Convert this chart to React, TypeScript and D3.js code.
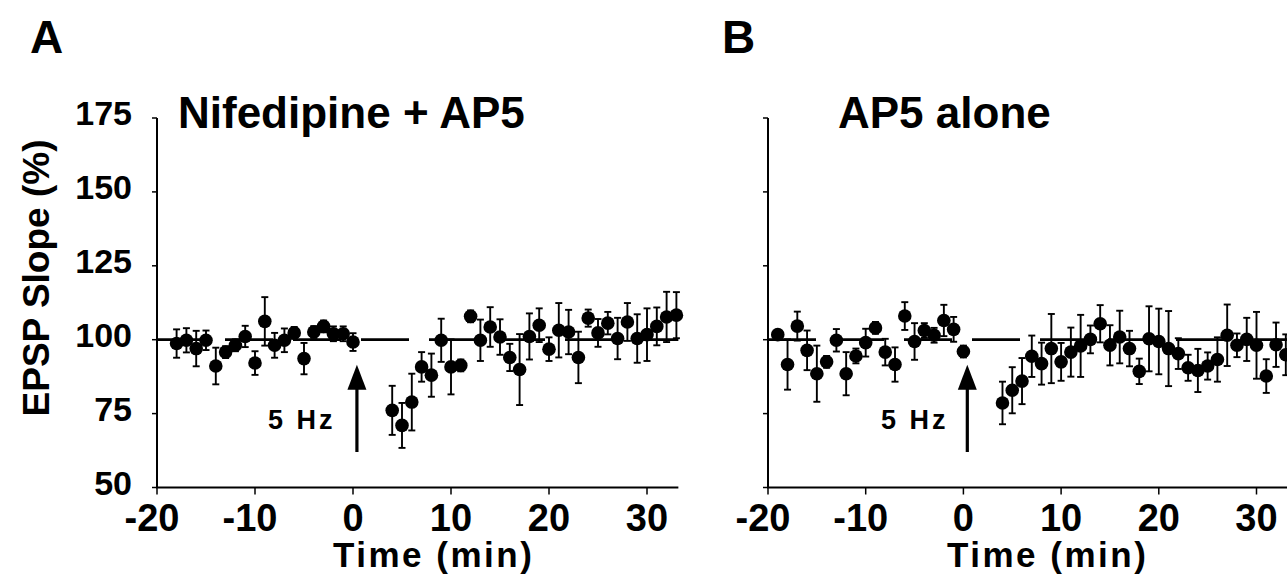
import React from 'react';
import * as d3 from 'd3';

// ---------- data ----------
const yTicks = [50, 75, 100, 125, 150, 175];
const xTicks = [-20, -10, 0, 10, 20, 30];

// Panel A: Nifedipine + AP5
const nifTime = [-18, -17, -16, -15, -14, -13, -12, -11, -10, -9, -8, -7, -6, -5, -4, -3, -2, -1, 0,
  4, 5, 6, 7, 8, 9, 10, 11, 12, 13, 14, 15, 16, 17, 18, 19, 20, 21, 22, 23, 24, 25, 26, 27, 28, 29, 30, 31, 32, 33];
const nifMean = [98.7, 99.8, 97, 99.8, 91.1, 95.8, 98.1, 101.1, 92.1, 106.2, 98.1, 99.8, 102.3, 93.6, 102.6, 104.5, 102, 102, 99.2,
  76.1, 71.0, 78.9, 90.8, 88, 99.8, 90.8, 91.3, 107.9, 99.8, 104.3, 100.9, 94, 89.9, 101.1, 104.9, 96.8, 103.2, 102.6, 94, 107.3, 102.3, 105.6, 100.4, 106, 100.4, 101.7, 104.5, 107.7, 108.3];
const nifSem = [4.8, 4.1, 6, 3.3, 6.2, 2, 2, 3.6, 4, 8.2, 4.2, 4, 2, 5.3, 2, 2, 2.5, 2.5, 3,
  8.3, 7.6, 9.6, 5, 7.3, 7.3, 9.3, 2, 2, 7, 6.7, 6, 4.6, 12, 7.8, 5.7, 4, 9.2, 7.5, 8.7, 2.9, 4.7, 3.8, 7, 6.4, 8.2, 8.9, 6.4, 8.5, 7.8];

// Panel B: AP5 alone
const apTime = [-19, -18, -17, -16, -15, -14, -13, -12, -11, -10, -9, -8, -7, -6, -5, -4, -3, -2, -1, 0,
  4, 5, 6, 7, 8, 9, 10, 11, 12, 13, 14, 15, 16, 17, 18, 19, 20, 21, 22, 23, 24, 25, 26, 27, 28, 29, 30, 31, 32, 33];
const apMean = [101.7, 91.6, 104.6, 96.4, 88.5, 92.5, 99.8, 88.5, 94.5, 99, 104, 95.8, 91.6, 108, 99.4, 103.1, 101.5, 106.5, 103.5, 96,
  78.6, 82.9, 86, 94.4, 91.9, 97, 92.5, 95.8, 97.9, 100.1, 105.4, 98.1, 100.9, 97, 89.3, 100.3, 99.4, 97, 95.3, 90.5, 89.6, 91.1, 93.3, 101.5, 98.1, 100.1, 98.1, 87.7, 98.3, 94.9];
const apSem = [1.5, 8.5, 4.9, 6.7, 9.5, 2, 3.8, 7.3, 2.5, 4.7, 2, 4.5, 5.8, 4.7, 6.2, 2.5, 2.5, 5.3, 4.2, 2,
  7.2, 7.8, 7.8, 7, 7.1, 11.7, 6.4, 8.3, 10.5, 4.7, 6.3, 6.8, 8.9, 6, 4.3, 11, 11.1, 12.7, 5.2, 4.4, 7.3, 4.6, 7.5, 10.4, 4, 7.3, 11.3, 5.7, 7.5, 6.9];

const baseline = 100;
const stimTime = 0.4;
const arrowFrom = 62;
const arrowTo = 91.5;

const FONT = '"Liberation Sans", Arial, Helvetica, sans-serif';

type PanelProps = {
  x20: number; x30: number; axisEnd: number; letter: string; letterX: number;
  title: string; titleX: number; times: number[]; means: number[]; sems: number[];
  showYLabels: boolean; hzX: number; timeX: number;
};

const yScale = d3.scaleLinear().domain([50, 175]).range([487.5, 118]);

function Panel(p: PanelProps) {
  const x = d3.scaleLinear().domain([-20, 30]).range([p.x20, p.x30]);
  const y = yScale;
  const pts = p.times.map((t, i) => ({ t, m: p.means[i], s: p.sems[i] }));
  const ax0 = x(-20);
  const ax1 = x(p.axisEnd);
  const ay = y(50);
  const arrowX = x(stimTime);
  const tipY = y(arrowTo);
  const headH = 25;
  return (
    <g>
      <text x={p.letterX} y={53} fontFamily={FONT} fontWeight="bold" fontSize={46}>{p.letter}</text>
      <text x={p.titleX} y={128} fontFamily={FONT} fontWeight="bold" fontSize={44}>{p.title}</text>
      {/* baseline dashed */}
      <line x1={ax0} x2={ax1} y1={y(baseline)} y2={y(baseline)} stroke="#000" strokeWidth={2.8} strokeDasharray="48 20" />
      {/* y axis */}
      <line x1={ax0} x2={ax0} y1={y(175)} y2={ay} stroke="#000" strokeWidth={2} />
      {yTicks.map(v => (
        <g key={'y' + v}>
          <line x1={ax0 - 5} x2={ax0} y1={y(v)} y2={y(v)} stroke="#000" strokeWidth={1.5} />
          {p.showYLabels && (
            <text x={ax0 - 25} y={y(v) + 7} textAnchor="end" fontFamily={FONT} fontWeight="bold" fontSize={34}>{v}</text>
          )}
        </g>
      ))}
      {/* x axis */}
      <line x1={ax0 - 1} x2={ax1} y1={ay} y2={ay} stroke="#000" strokeWidth={2} />
      {xTicks.map(t => (
        <g key={'x' + t}>
          <line x1={x(t)} x2={x(t)} y1={ay} y2={ay + 7} stroke="#000" strokeWidth={1.5} />
          <text x={x(t) - (t < 0 ? 5 : 0)} y={531} textAnchor="middle" fontFamily={FONT} fontWeight="bold" fontSize={38}>{t}</text>
        </g>
      ))}
      <text x={p.timeX} y={567} fontFamily={FONT} fontWeight="bold" fontSize={35} letterSpacing={2.5}>Time (min)</text>
      {/* error bars */}
      {pts.map((d, i) => (
        <g key={'e' + i} stroke="#000" strokeWidth={1.9}>
          <line x1={x(d.t)} x2={x(d.t)} y1={y(d.m - d.s)} y2={y(d.m + d.s)} />
          <line x1={x(d.t) - 3.5} x2={x(d.t) + 3.5} y1={y(d.m + d.s)} y2={y(d.m + d.s)} />
          <line x1={x(d.t) - 3.5} x2={x(d.t) + 3.5} y1={y(d.m - d.s)} y2={y(d.m - d.s)} />
        </g>
      ))}
      {pts.map((d, i) => (
        <circle key={'c' + i} cx={x(d.t)} cy={y(d.m)} r={6.8} fill="#000" />
      ))}
      {/* stimulus arrow */}
      <line x1={arrowX} x2={arrowX} y1={tipY + headH - 2} y2={y(arrowFrom)} stroke="#000" strokeWidth={3.2} />
      <path d={`M${arrowX},${tipY} L${arrowX - 9.5},${tipY + headH} L${arrowX + 9.5},${tipY + headH} Z`} fill="#000" />
      <text x={p.hzX} y={429} fontFamily={FONT} fontWeight="bold" fontSize={27} letterSpacing={3}>5 Hz</text>
    </g>
  );
}

export default function App() {
  return (
    <svg width={1287} height={579} viewBox="0 0 1287 579"
      style={{ position: 'absolute', left: 0, top: 0, display: 'block', background: '#fff' }}>
      <rect x={0} y={0} width={1287} height={579} fill="#fff" />
      <text transform="translate(49,278) rotate(-90)" textAnchor="middle" fontFamily={FONT} fontWeight="bold" fontSize={37}>EPSP Slope (%)</text>
      <Panel x20={157} x30={647} axisEnd={33.2} letter="A" letterX={30} title="Nifedipine + AP5" titleX={178}
        times={nifTime} means={nifMean} sems={nifSem} showYLabels={true} hzX={268} timeX={333} />
      <Panel x20={768} x30={1256.5} axisEnd={36} letter="B" letterX={722} title="AP5 alone" titleX={838}
        times={apTime} means={apMean} sems={apSem} showYLabels={false} hzX={881} timeX={947} />
    </svg>
  );
}
